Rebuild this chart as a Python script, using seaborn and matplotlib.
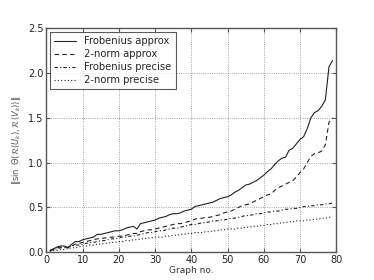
import numpy as np
import pandas as pd
import seaborn as sns
import matplotlib
matplotlib.use("Agg")
import matplotlib.pyplot as plt

graph_no = list(range(1, 80))

frob_approx = [
    0.02, 0.04, 0.06, 0.07, 0.07, 0.05, 0.09, 0.12, 0.12, 0.14,
    0.15, 0.16, 0.17, 0.20, 0.20, 0.21, 0.22, 0.23, 0.24, 0.24,
    0.25, 0.27, 0.28, 0.29, 0.26, 0.32, 0.33, 0.34, 0.35, 0.36,
    0.38, 0.39, 0.40, 0.42, 0.43, 0.43, 0.44, 0.46, 0.47, 0.48,
    0.51, 0.52, 0.53, 0.54, 0.55, 0.56, 0.58, 0.60, 0.61, 0.62,
    0.64, 0.67, 0.69, 0.72, 0.75, 0.76, 0.78, 0.80, 0.83, 0.86,
    0.90, 0.93, 0.98, 1.02, 1.05, 1.06, 1.14, 1.16, 1.21, 1.26,
    1.29, 1.38, 1.50, 1.56, 1.58, 1.63, 1.70, 2.07, 2.14,
]
two_approx = [
    0.02, 0.03, 0.05, 0.06, 0.06, 0.05, 0.07, 0.09, 0.10, 0.11,
    0.12, 0.13, 0.14, 0.15, 0.15, 0.16, 0.16, 0.17, 0.17, 0.18,
    0.18, 0.19, 0.20, 0.21, 0.21, 0.23, 0.24, 0.25, 0.25, 0.26,
    0.27, 0.28, 0.29, 0.30, 0.31, 0.32, 0.32, 0.33, 0.34, 0.35,
    0.37, 0.38, 0.38, 0.39, 0.39, 0.40, 0.41, 0.42, 0.44, 0.45,
    0.46, 0.48, 0.50, 0.52, 0.53, 0.54, 0.56, 0.58, 0.60, 0.62,
    0.64, 0.65, 0.69, 0.72, 0.74, 0.76, 0.78, 0.80, 0.84, 0.89,
    0.93, 1.00, 1.07, 1.10, 1.11, 1.13, 1.20, 1.45, 1.50,
]
frob_precise = [
    0.02, 0.03, 0.04, 0.05, 0.05, 0.06, 0.07, 0.08, 0.08, 0.09,
    0.10, 0.11, 0.11, 0.12, 0.13, 0.13, 0.14, 0.15, 0.15, 0.16,
    0.17, 0.17, 0.18, 0.18, 0.19, 0.20, 0.21, 0.22, 0.22, 0.23,
    0.24, 0.24, 0.25, 0.26, 0.27, 0.27, 0.28, 0.29, 0.30, 0.31,
    0.31, 0.32, 0.33, 0.33, 0.34, 0.35, 0.35, 0.36, 0.36, 0.37,
    0.38, 0.38, 0.39, 0.40, 0.41, 0.41, 0.42, 0.43, 0.43, 0.44,
    0.45, 0.45, 0.46, 0.46, 0.47, 0.48, 0.48, 0.49, 0.49, 0.50,
    0.51, 0.51, 0.52, 0.52, 0.53, 0.53, 0.54, 0.54, 0.55,
]
two_precise = [
    0.01, 0.02, 0.02, 0.03, 0.03, 0.04, 0.05, 0.05, 0.06, 0.07,
    0.07, 0.08, 0.08, 0.09, 0.09, 0.10, 0.10, 0.11, 0.11, 0.12,
    0.12, 0.13, 0.13, 0.14, 0.14, 0.15, 0.15, 0.16, 0.16, 0.17,
    0.17, 0.17, 0.18, 0.18, 0.19, 0.19, 0.20, 0.20, 0.21, 0.21,
    0.22, 0.22, 0.22, 0.23, 0.23, 0.24, 0.24, 0.25, 0.25, 0.26,
    0.26, 0.26, 0.27, 0.27, 0.28, 0.28, 0.29, 0.29, 0.30, 0.30,
    0.31, 0.31, 0.32, 0.32, 0.33, 0.33, 0.34, 0.34, 0.35, 0.35,
    0.35, 0.36, 0.36, 0.37, 0.37, 0.38, 0.38, 0.39, 0.39,
]

series_names = ["Frobenius approx", "2-norm approx", "Frobenius precise", "2-norm precise"]
series_values = [frob_approx, two_approx, frob_precise, two_precise]
line_styles = ["-", (0, (4, 3)), (0, (3, 2, 1, 2)), (0, (1, 2))]

sns.set_style("white")
plt.rcParams["font.family"] = ["DejaVu Sans"]

fig = plt.figure(figsize=(3.74, 2.8), dpi=100)
ax = fig.add_axes([0.124, 0.099, 0.775, 0.8])

for name, vals, ls in zip(series_names, series_values, line_styles):
    df = pd.DataFrame({"x": graph_no, "y": vals})
    sns.lineplot(data=df, x="x", y="y", ax=ax, color="#222222", lw=0.8,
                 linestyle=ls, label=name)

ax.set_xlim(0, 80)
ax.set_ylim(0, 2.5)
ax.set_xticks(range(0, 81, 10))
ax.set_yticks([0.0, 0.5, 1.0, 1.5, 2.0, 2.5])
ax.set_yticklabels(["0.0", "0.5", "1.0", "1.5", "2.0", "2.5"])
ax.grid(True, linestyle=":", color="#888888", lw=0.6)
ax.tick_params(labelsize=7, length=3, direction="in", left=True, bottom=True,
               top=True, right=True, pad=2, colors="#555555", labelcolor="#222222")
for s in ax.spines.values():
    s.set_color("#555555")
    s.set_linewidth(1.0)

ax.set_xlabel("Graph no.", fontsize=6.5, labelpad=1, color="#333333")
ax.set_ylabel(r"$\|\sin\ \Theta(\mathcal{R}(U_k),\mathcal{R}(V_k))\|$", fontsize=6,
              labelpad=4, color="#555555")

leg = ax.legend(loc="upper left", fontsize=7.2, frameon=True, fancybox=False,
                edgecolor="#333333", handlelength=2.2, borderpad=0.4,
                labelspacing=0.3, borderaxespad=0.4)
leg.get_frame().set_linewidth(0.8)

fig.savefig("out.png", dpi=100)
